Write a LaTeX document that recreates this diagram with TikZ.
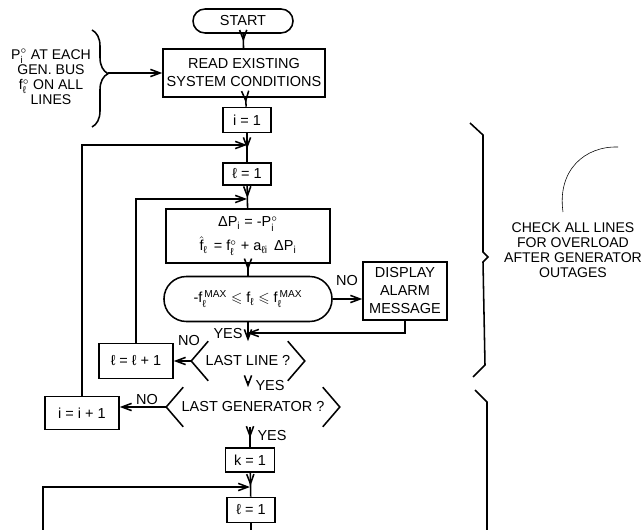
\documentclass[tikz,border=0pt]{standalone}
\usepackage{amsmath,amssymb}
\usepackage{fontspec}
\setmainfont{Liberation Sans}
\usetikzlibrary{arrows.meta,calc,decorations.pathreplacing,decorations.markings}

\begin{document}
\begin{tikzpicture}[
		x=0.025cm, y=-0.025cm,
		font=\fontsize{10.3}{12.8}\selectfont,
		line width=1.1pt,
		>={Straight Barb[length=2.4mm,width=1.8mm]},
		block/.style={
			draw,
			inner sep=1pt,
			align=center
		},
		terminal/.style={
			block,
			rounded corners=3mm
		},
		test/.style={
			block,
			rounded corners=5.6mm
		},
		choice/.style={
			inner sep=0pt,
			minimum height=9.5mm,
			align=center
		},
		link/.style={->},
		midlink/.style={
			postaction={decorate},
			decoration={markings,mark=at position 0.55 with {\arrow{>}}}
		},
		yesno/.style={
			inner sep=0pt
		},
		note/.style={
			font=\fontsize{10}{10.8}\selectfont,
			align=center,
			inner sep=0pt
		}
	]
		\useasboundingbox (0,0) rectangle (643,530);

		\node[terminal,minimum width=2.5cm,minimum height=6mm] (start) at (243,21) {START};
		\node[block,minimum width=4.05cm,minimum height=1.2cm] (read) at (244,73) {READ EXISTING\\SYSTEM CONDITIONS};
		\node[block,minimum width=1.2cm,minimum height=6.25mm] (i1) at (247,120) {i = 1};
		\node[block,minimum width=1.2cm,minimum height=5.5mm] (l1) at (247,174) {ℓ = 1};
		\node[block,minimum width=4.1cm,minimum height=1.35cm] (dp) at (248,236) {ΔP$_{\text{i}}$ = -P$^{\circ}_{\text{i}}$\\[3pt]$\hat{\text{f}}_{\text{ℓ}}$\, = f$^{\circ}_{\text{ℓ}}$ + a$_{\text{ℓi}}$\, ΔP$_{\text{i}}$};
		\node[test,minimum width=4.2cm,minimum height=1.125cm] (chk) at (248,299) {-f$_{\text{ℓ}}^{\,\text{MAX}}$ $\leqslant$ f$_{\text{ℓ}}$ $\leqslant$ f$_{\text{ℓ}}^{\,\text{MAX}}$};
		\node[block,minimum width=2.1cm,minimum height=1.45cm] (alarm) at (405,291) {DISPLAY\\ALARM\\MESSAGE};
		\node[choice,minimum width=2.8cm] (ll) at (248,361) {LAST LINE ?};
		\node[choice,minimum width=4.3cm] (lg) at (253,407) {LAST GENERATOR ?};
		\node[block,minimum width=1.85cm,minimum height=8.75mm] (linc) at (136,361) {ℓ = ℓ + 1};
		\node[block,minimum width=1.85cm,minimum height=8.25mm] (iinc) at (82,413) {i = i + 1};
		\node[block,minimum width=1.225cm,minimum height=6mm] (k1) at (250,460) {k = 1};
		\node[block,minimum width=1.2cm,minimum height=6.25mm] (l1b) at (251,510) {ℓ = 1};

		% decision outlines
		\foreach \n in {ll,lg}
			\draw ($(\n.north west)+(17,0)$) -- (\n.west) -- ($(\n.south west)+(17,0)$)
			      ($(\n.north east)+(-17,0)$) -- (\n.east) -- ($(\n.south east)+(-17,0)$);

		\coordinate (j1) at (247,145);
		\coordinate (j2) at (247,199);
		\coordinate (j3) at (247,333);
		\coordinate (j4) at (250,487);
		\coordinate (lft) at (43,530);
		\coordinate (bot) at (251,530);

		\draw[midlink] (start) -- (read);
		\draw[midlink] (read) -- (i1);
		\draw[midlink] (i1) -- (l1);
		\draw[midlink] (l1) -- (dp);
		\draw[midlink] (dp) -- (chk);
		\draw[link] (chk.east) -- (chk.east -| alarm.west);
		\draw[link] (alarm.south) |- (j3);
		\draw[link] (chk) -- (ll);
		\draw[link] (ll) -- (linc);
		\draw[link] (ll.south) -- (ll.south |- lg.north);
		\draw[link] (lg.west) -- (lg.west -| iinc.east);
		\draw[midlink] (k1 |- lg.south) -- (k1);
		\draw[midlink] (k1) -- (l1b);
		\draw (l1b) -- (bot);

		\draw[link] (iinc) |- (j1);
		\draw[link] (linc) |- (j2);
		\draw[link] (lft) |- (j4);

		\node[yesno] (n1) at (347,281) {NO};
		\node[yesno] (y1) at (228,334) {YES};
		\node[yesno] (n2) at (189,341) {NO};
		\node[yesno] (y2) at (270,386) {YES};
		\node[yesno] (n3) at (147,400) {NO};
		\node[yesno] (y3) at (272,436) {YES};

		% data given to the study
		\draw[decorate,decoration={brace,amplitude=4mm,aspect=0.45}] (92,30) -- (92,127);
		\coordinate (bt) at (108,73);
		\draw[link] (bt) -- (read);
		\node[note] (given) at (51,77) {P$^{\circ}_{\text{i}}$ AT EACH\\GEN. BUS\\f$^{\circ}_{\text{ℓ}}$ ON ALL\\LINES};

		% scope of the loops
		\draw (470,123) -- (483,135) -- (483,252) -- (488,257) -- (483,262) -- (485,365) -- (473,377);
		\draw (475,390) -- (487,402) -- (487,530);
		\node[note] (scope) at (573,250) {CHECK ALL LINES\\FOR OVERLOAD\\AFTER GENERATOR\\OUTAGES};
		\draw[line width=0.4pt] (618,147) .. controls (585,146) and (557,170) .. (563,212);
	\end{tikzpicture}
\end{document}
